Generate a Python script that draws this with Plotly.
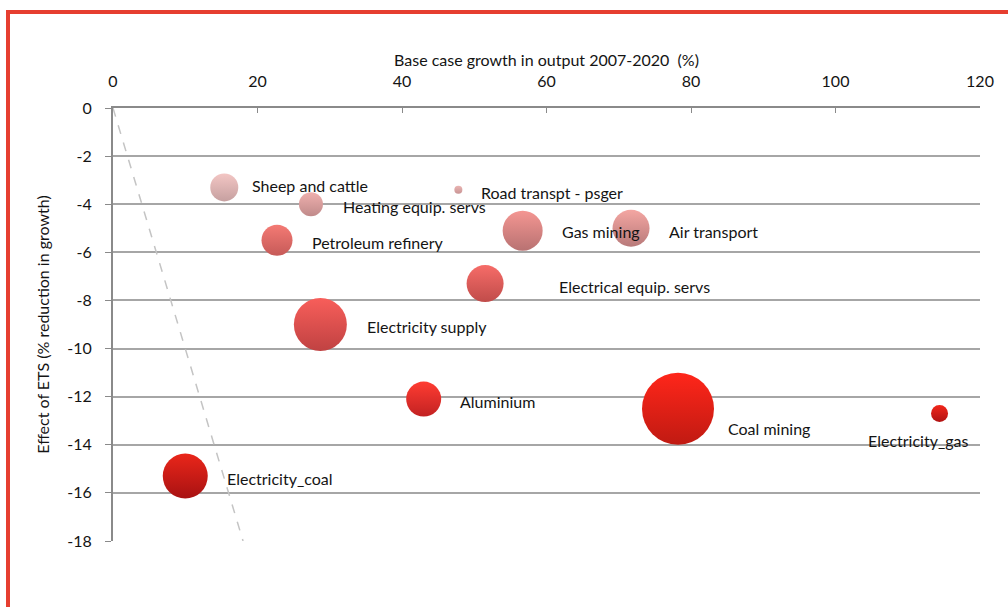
import plotly.graph_objects as go

# Sector results: base-case output growth vs. effect of the ETS
sectors = [
    "Sheep and cattle", "Heating equip. servs", "Road transpt - psger",
    "Petroleum refinery", "Gas mining", "Air transport",
    "Electrical equip. servs", "Electricity supply", "Aluminium",
    "Electricity_coal", "Coal mining", "Electricity_gas",
]
base_growth = [15.4, 27.4, 47.8, 22.7, 56.7, 71.7, 51.5, 28.7, 43.0, 10.0, 78.2, 114.4]
ets_effect = [-3.3, -4.0, -3.4, -5.5, -5.1, -5.0, -7.3, -9.0, -12.1, -15.3, -12.5, -12.7]
# bubble weight (area scale)
bubble_weight = [784, 576, 64, 961, 1600, 1369, 1369, 2809, 1225, 2025, 5184, 289]

# gradient colours of each bubble (top, bottom)
top_colors = ["#f3c6c4", "#efb0ae", "#eab4b2", "#f47a74", "#f49692", "#f4a6a2",
              "#f66c68", "#f85e5a", "#ff3c32", "#ea261a", "#ff261a", "#f2261a"]
bottom_colors = ["#c6a0a0", "#c08a8a", "#c89494", "#c65a58", "#b87272", "#b87a7a",
                 "#c04c4a", "#c04242", "#c22222", "#a81212", "#c01a12", "#b01212"]

# label offsets from bubble centre (pixels) and anchoring
label_dx = [26, 30, 21, 33, 37, 36, 72, 45, 34, 40, 48, -21]
label_dy = [2, -2, -3, -2, -1, -3, -3, -2, -2, -2, -20, -27]
label_anchor = ["left"] * 11 + ["center"]

# reference line: reduction equal to growth
ref_x = [0, 18]
ref_y = [0, -18]

x_ticks = [0, 20, 40, 60, 80, 100, 120]
y_ticks = [0, -2, -4, -6, -8, -10, -12, -14, -16, -18]
y_tick_text = [str(v) for v in y_ticks]

W, H = 1008, 607
ML, MR, MT, MB = 113, 28, 108, 66
PW, PH = W - ML - MR, H - MT - MB

FONT = "Lato"
FS = 16
TXT = "#141414"
GRID = "#a6a6a6"
AXIS = "#8a8a8a"
FRAME = "#e63e30"

fig = go.Figure()

fig.add_trace(go.Scatter(
    x=ref_x, y=ref_y, mode="lines",
    line=dict(color="#c4c4c4", width=1.5, dash="dash"),
    hoverinfo="skip", showlegend=False,
))

# draw larger bubbles first so small ones stay visible
order = sorted(range(len(sectors)), key=lambda i: -bubble_weight[i])
for i in order:
    fig.add_trace(go.Scatter(
        x=[base_growth[i]], y=[ets_effect[i]], mode="markers",
        name=sectors[i], showlegend=False,
        marker=dict(
            size=[bubble_weight[i]], sizemode="area", sizeref=2,
            color=top_colors[i], line=dict(width=0),
            gradient=dict(type="vertical", color=bottom_colors[i]),
            opacity=1,
        ),
    ))

for i, name in enumerate(sectors):
    fig.add_annotation(
        x=base_growth[i], y=ets_effect[i], text=name, showarrow=False,
        xanchor=label_anchor[i], yanchor="middle",
        xshift=label_dx[i], yshift=label_dy[i],
        font=dict(family=FONT, size=FS, color=TXT),
    )


def px_x(p):
    return (p - ML) / PW


def px_y(p):
    return 1 - (p - MT) / PH


# red frame along the top and left edges
fig.add_shape(type="line", xref="paper", yref="paper",
              x0=px_x(6), x1=px_x(W + 5), y0=px_y(12), y1=px_y(12),
              line=dict(color=FRAME, width=4))
fig.add_shape(type="line", xref="paper", yref="paper",
              x0=px_x(8), x1=px_x(8), y0=px_y(10), y1=px_y(H + 5),
              line=dict(color=FRAME, width=4))

fig.update_layout(
    width=W, height=H,
    margin=dict(l=ML, r=MR, t=MT, b=MB),
    paper_bgcolor="white", plot_bgcolor="white",
    font=dict(family=FONT, size=FS, color=TXT),
    showlegend=False,
    xaxis=dict(
        side="top", range=[0, 120], tickvals=x_ticks,
        showgrid=False, zeroline=False,
        showline=True, linecolor=AXIS, linewidth=2,
        ticks="inside", ticklen=5, tickcolor=AXIS, tickwidth=1,
        ticklabelstandoff=13,
        tickfont=dict(family=FONT, size=FS, color=TXT),
        title=dict(text="Base case growth in output 2007-2020  (%)",
                   font=dict(family=FONT, size=FS, color=TXT), standoff=0),
    ),
    yaxis=dict(
        range=[-18, 0], tickvals=y_ticks, ticktext=y_tick_text,
        showgrid=True, gridcolor=GRID, gridwidth=1.5,
        zeroline=False,
        showline=True, linecolor=AXIS, linewidth=2,
        ticks="outside", ticklen=6, tickcolor=AXIS, tickwidth=1,
        ticklabelstandoff=10,
        tickfont=dict(family=FONT, size=FS, color=TXT),
        title=dict(text="Effect of ETS (% reduction in growth)",
                   font=dict(family=FONT, size=FS, color=TXT), standoff=14),
    ),
)

fig.write_html("out.html")
